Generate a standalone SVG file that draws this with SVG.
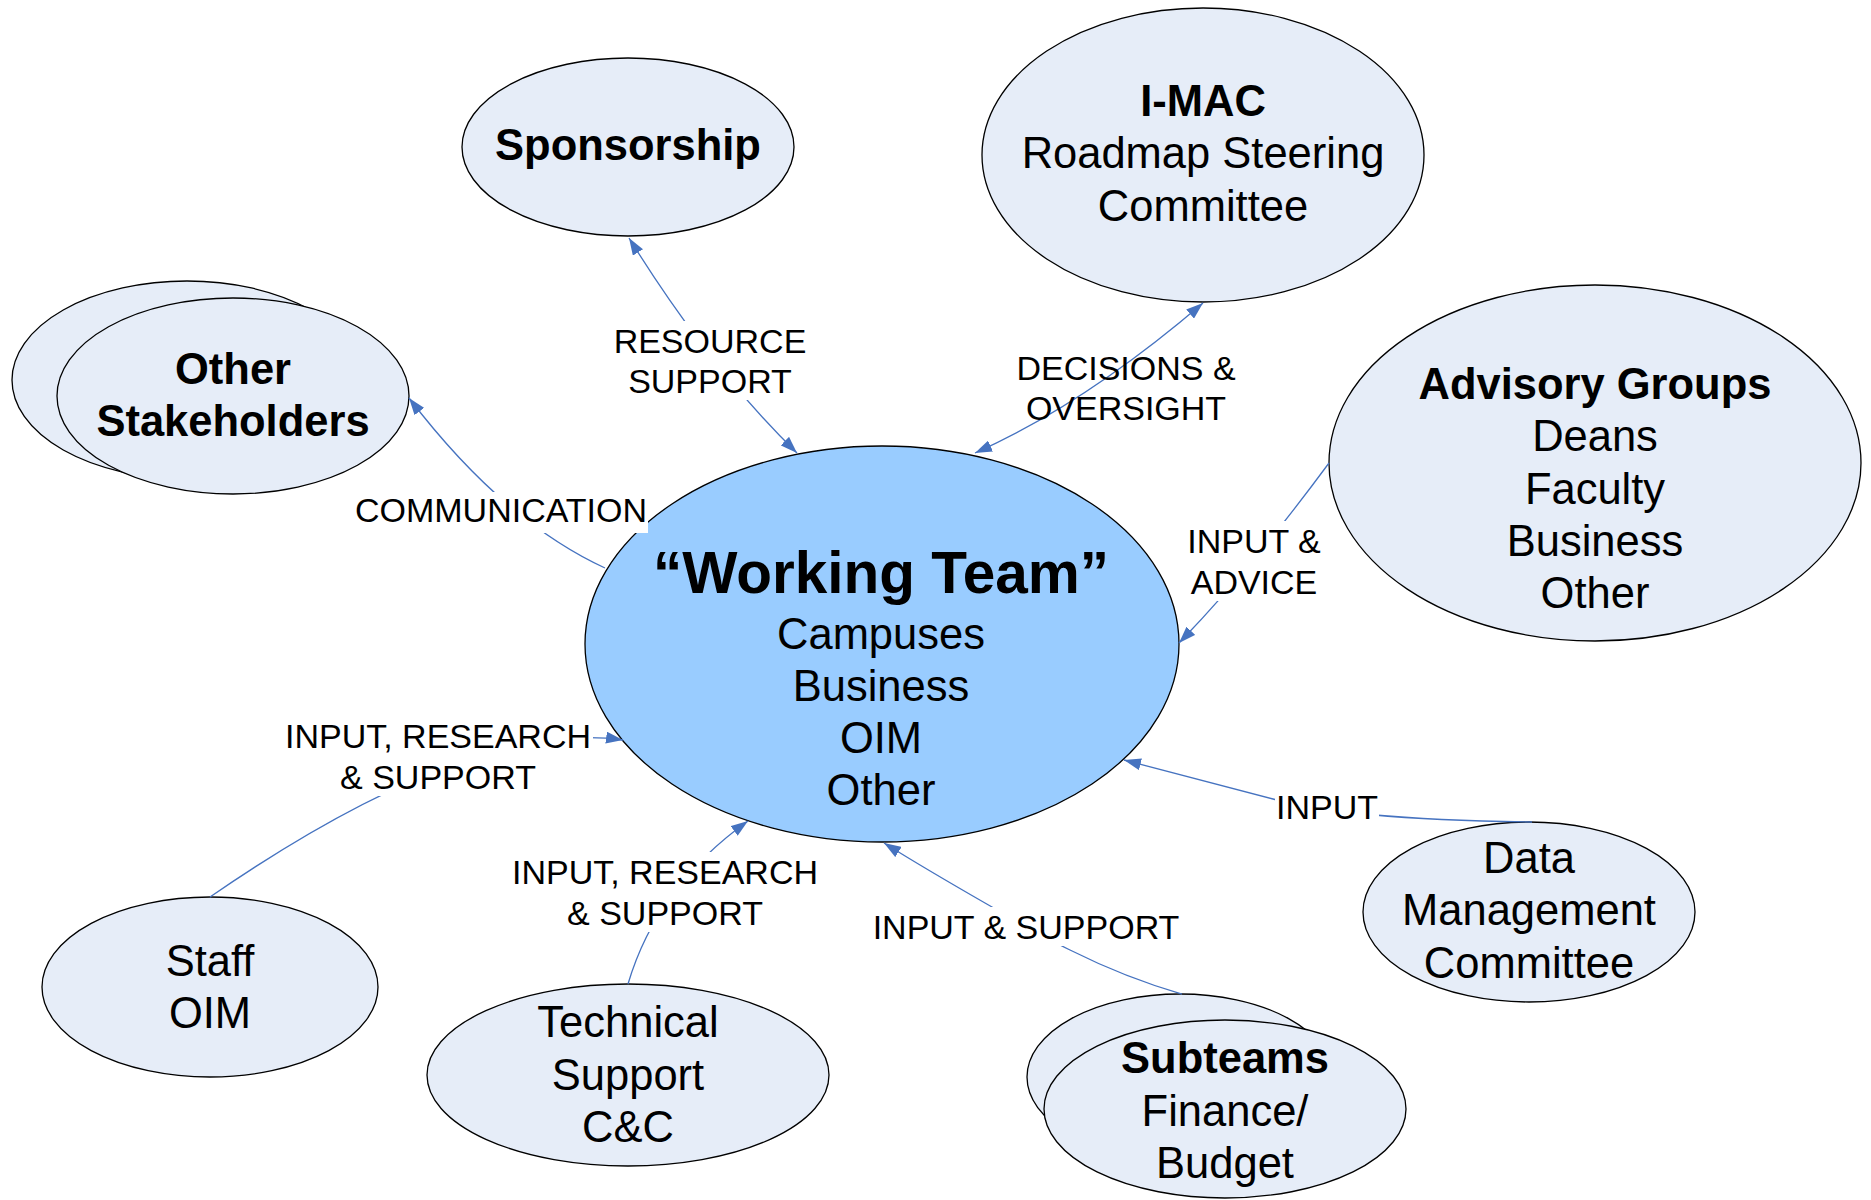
<svg xmlns="http://www.w3.org/2000/svg" width="1871" height="1200" viewBox="0 0 1871 1200">
<style>
.node{fill:#E6EDF8;stroke:#000;stroke-width:1.3}
.core{fill:#99CCFF;stroke:#000;stroke-width:1.3}
.t{font-family:"Liberation Sans",Arial,sans-serif;font-size:43.5px;fill:#000;text-anchor:middle}
.b{font-weight:bold}
.wt{font-family:"Liberation Sans",Arial,sans-serif;font-size:58.5px;font-weight:bold;text-anchor:middle}
.c{fill:none;stroke:#4673C0;stroke-width:1.3}
.l{font-family:"Liberation Sans",Arial,sans-serif;font-size:34px;fill:#000;text-anchor:middle}
.bg{fill:#fff}
</style>
<defs>
<marker id="arr" viewBox="0 0 17 12" refX="17" refY="6" markerWidth="17" markerHeight="12" markerUnits="userSpaceOnUse" orient="auto-start-reverse">
<path d="M0,0 L17,6 L0,12 z" fill="#4673C0"/>
</marker>
</defs>
<rect width="1871" height="1200" fill="#fff"/>

<g id="working-team">
<ellipse class="core" cx="882" cy="644" rx="297" ry="198"/>
<text class="wt" x="881" y="593">“Working Team”</text>
<text class="t" x="881" y="649">Campuses</text>
<text class="t" x="881" y="701">Business</text>
<text class="t" x="881" y="753">OIM</text>
<text class="t" x="881" y="805">Other</text>
</g>

<g id="sponsorship">
<ellipse class="node" cx="628" cy="147" rx="166" ry="89"/>
<text class="t b" x="628" y="160">Sponsorship</text>
</g>

<g id="imac">
<ellipse class="node" cx="1203" cy="155" rx="221" ry="147"/>
<text class="t b" x="1203" y="116">I-MAC</text>
<text class="t" x="1203" y="168">Roadmap Steering</text>
<text class="t" x="1203" y="221">Committee</text>
</g>

<g id="other-stakeholders">
<ellipse class="node" cx="187" cy="380" rx="175" ry="99"/>
<ellipse class="node" cx="233" cy="396" rx="176" ry="98"/>
<text class="t b" x="233" y="384">Other</text>
<text class="t b" x="233" y="436">Stakeholders</text>
</g>

<g id="advisory-groups">
<ellipse class="node" cx="1595" cy="463" rx="266" ry="178"/>
<text class="t b" x="1595" y="399">Advisory Groups</text>
<text class="t" x="1595" y="451">Deans</text>
<text class="t" x="1595" y="504">Faculty</text>
<text class="t" x="1595" y="556">Business</text>
<text class="t" x="1595" y="608">Other</text>
</g>

<g id="data-management">
<ellipse class="node" cx="1529" cy="912" rx="166" ry="90"/>
<text class="t" x="1529" y="873">Data</text>
<text class="t" x="1529" y="925">Management</text>
<text class="t" x="1529" y="978">Committee</text>
</g>

<g id="subteams">
<ellipse class="node" cx="1180" cy="1077" rx="153" ry="83"/>
<ellipse class="node" cx="1225" cy="1109" rx="181" ry="89"/>
<text class="t b" x="1225" y="1073">Subteams</text>
<text class="t" x="1225" y="1126">Finance/</text>
<text class="t" x="1225" y="1178">Budget</text>
</g>

<g id="technical-support">
<ellipse class="node" cx="628" cy="1075" rx="201" ry="91"/>
<text class="t" x="628" y="1037">Technical</text>
<text class="t" x="628" y="1090">Support</text>
<text class="t" x="628" y="1142">C&amp;C</text>
</g>

<g id="staff-oim">
<ellipse class="node" cx="210" cy="987" rx="168" ry="90"/>
<text class="t" x="210" y="976">Staff</text>
<text class="t" x="210" y="1028">OIM</text>
</g>

<g id="connectors">
<path class="c" d="M629,238 Q709,367 797,453" marker-start="url(#arr)" marker-end="url(#arr)"/>
<path class="c" d="M1203,303 Q1085,404 975,453" marker-start="url(#arr)" marker-end="url(#arr)"/>
<path class="c" d="M409,398 Q503,521 605,568" marker-start="url(#arr)"/>
<path class="c" d="M1329,463 Q1250,570 1179,643" marker-end="url(#arr)"/>
<path class="c" d="M1532,822 C1460,821 1340,818 1273,799 L1124,760" marker-end="url(#arr)"/>
<path class="c" d="M1182,994 C1140,982 1100,965 1070,950 S940,878 884,843" marker-end="url(#arr)"/>
<path class="c" d="M628,984 Q657,886 748,821" marker-end="url(#arr)"/>
<path class="c" d="M210,897 C300,835 480,720 623,740" marker-end="url(#arr)"/>

<g id="label-resource">
<rect class="bg" x="612" y="321" width="196" height="79"/>
<text class="l" x="710" y="353">RESOURCE</text>
<text class="l" x="710" y="393">SUPPORT</text>
</g>
<g id="label-decisions">
<text class="l" x="1126" y="380">DECISIONS &amp;</text>
<text class="l" x="1126" y="420">OVERSIGHT</text>
</g>
<g id="label-communication">
<rect class="bg" x="353" y="492" width="295" height="41"/>
<text class="l" x="501" y="522">COMMUNICATION</text>
</g>
<g id="label-advice">
<rect class="bg" x="1186" y="521" width="136" height="80"/>
<text class="l" x="1254" y="553">INPUT &amp;</text>
<text class="l" x="1254" y="594">ADVICE</text>
</g>
<g id="label-input">
<rect class="bg" x="1275" y="788" width="104" height="38"/>
<text class="l" x="1327" y="819">INPUT</text>
</g>
<g id="label-input-support">
<rect class="bg" x="872" y="907" width="308" height="39"/>
<text class="l" x="1026" y="939">INPUT &amp; SUPPORT</text>
</g>
<g id="label-tech">
<rect class="bg" x="510" y="852" width="310" height="80"/>
<text class="l" x="665" y="884">INPUT, RESEARCH</text>
<text class="l" x="665" y="925">&amp; SUPPORT</text>
</g>
<g id="label-staff">
<rect class="bg" x="283" y="716" width="310" height="80"/>
<text class="l" x="438" y="748">INPUT, RESEARCH</text>
<text class="l" x="438" y="789">&amp; SUPPORT</text>
</g>
</g>
</svg>
